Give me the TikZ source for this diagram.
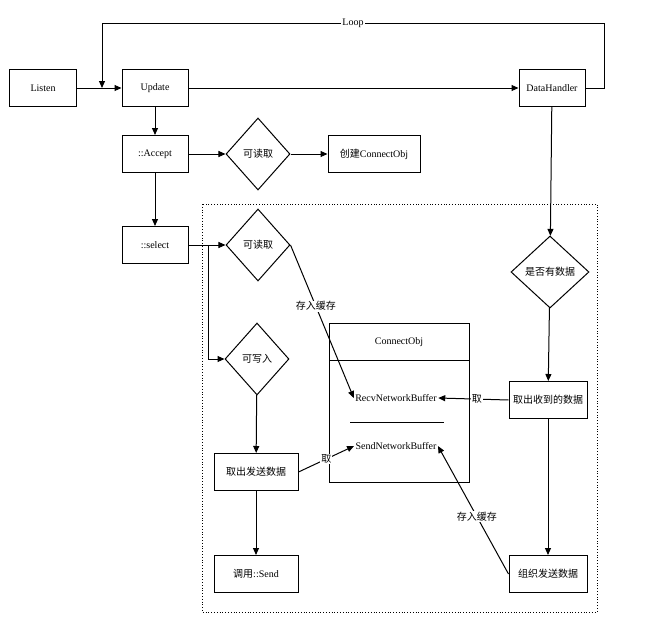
\documentclass[tikz,border=0pt]{standalone}
\usepackage{fontspec}
\setmainfont{Liberation Serif}
\newfontfamily\cjk{Noto Sans CJK SC}
\usetikzlibrary{shapes.geometric,arrows.meta}
\begin{document}
\begin{tikzpicture}[x=1pt,y=-1pt,line width=1pt,
  box/.style={draw,rectangle,minimum height=37pt,inner sep=2pt,font=\fontsize{10}{12}\selectfont},
  dia/.style={draw,diamond,minimum width=64pt,minimum height=72pt,inner sep=0pt,font=\cjk\fontsize{10}{12}\selectfont},
  arr/.style={-{Triangle[length=7pt,width=6pt]}},
  lbl/.style={fill=white,inner sep=1pt,font=\cjk\fontsize{10}{12}\selectfont}]
\useasboundingbox (0,0) rectangle (657,627);
\node[box,minimum width=67pt] (listen) at (43,88) {Listen};
\node[box,minimum width=66pt] (update) at (155,88) {Update};
\node[box,minimum width=66pt] (dh) at (552,88) {DataHandler};
\node[box,minimum width=66pt] (accept) at (155,154) {::Accept};
\node[dia] (d1) at (258,154) {可读取};
\node[box,minimum width=92pt] (create) at (374,154) {{\cjk 创建}ConnectObj};
\node[box,minimum width=66pt] (select) at (155,245) {::select};
\node[dia] (d2) at (258,245) {可读取};
\node[dia] (d3) at (257,359) {可写入};
\node[box,minimum width=84pt,font=\cjk\fontsize{10}{12}\selectfont] (take) at (256,472) {取出发送数据};
\node[box,minimum width=84pt] (send) at (256,574) {{\cjk 调用}::Send};
\node[dia,minimum width=78pt] (has) at (550,272) {是否有数据};
\node[box,minimum width=78pt,font=\cjk\fontsize{10}{12}\selectfont] (recvd) at (548,400) {取出收到的数据};
\node[box,minimum width=78pt,font=\cjk\fontsize{10}{12}\selectfont] (org) at (548,574) {组织发送数据};
% ConnectObj box
\draw (329,323) rectangle (469,482);
\draw (329,360) -- (469,360);
\node[font=\fontsize{10}{12}\selectfont] (title) at (399,342) {ConnectObj};
\node[font=\fontsize{10}{12}\selectfont,inner sep=1pt] (rb) at (396,398) {RecvNetworkBuffer};
\draw (350,422) -- (444,422);
\node[font=\fontsize{10}{12}\selectfont,inner sep=1pt] (sb) at (396,446) {SendNetworkBuffer};
% dotted region
\draw[dotted,line width=0.8pt] (202,204) rectangle (597,612);
% connectors
\draw[arr] (listen) -- (update);
\draw[arr] (update) -- (dh);
\coordinate (lp1) at (604,88);
\coordinate (lp2) at (604,23);
\coordinate (lp3) at (102,23);
\coordinate (lp4) at (102,88);
\draw[arr] (dh.east) -- (lp1) -- (lp2) -- node[lbl,font=\fontsize{10}{12}\selectfont]{Loop} (lp3) -- (lp4);
\draw[arr] (update) -- (accept);
\draw[arr] (accept) -- (d1);
\draw[arr] (d1) -- (create);
\draw[arr] (accept) -- (select);
\draw[arr] (select) -- (d2);
\coordinate (br) at (208,245);
\draw[arr] (br) |- (d3.west);
\draw[arr] (d3) -- (take);
\draw[arr] (take) -- (send);
\draw[arr] (dh) -- (has);
\draw[arr] (has) -- (recvd);
\draw[arr] (recvd) -- (org);
\draw[arr] (recvd.west) -- node[lbl,pos=0.45]{取} (rb.east);
\draw[arr] (take.east) -- node[lbl,pos=0.5]{取} (sb.west);
\draw[arr] (d2.east) -- node[lbl,pos=0.4]{存入缓存} (rb.west);
\draw[arr] (org.west) -- node[lbl,pos=0.45]{存入缓存} (sb.east);
\end{tikzpicture}
\end{document}
